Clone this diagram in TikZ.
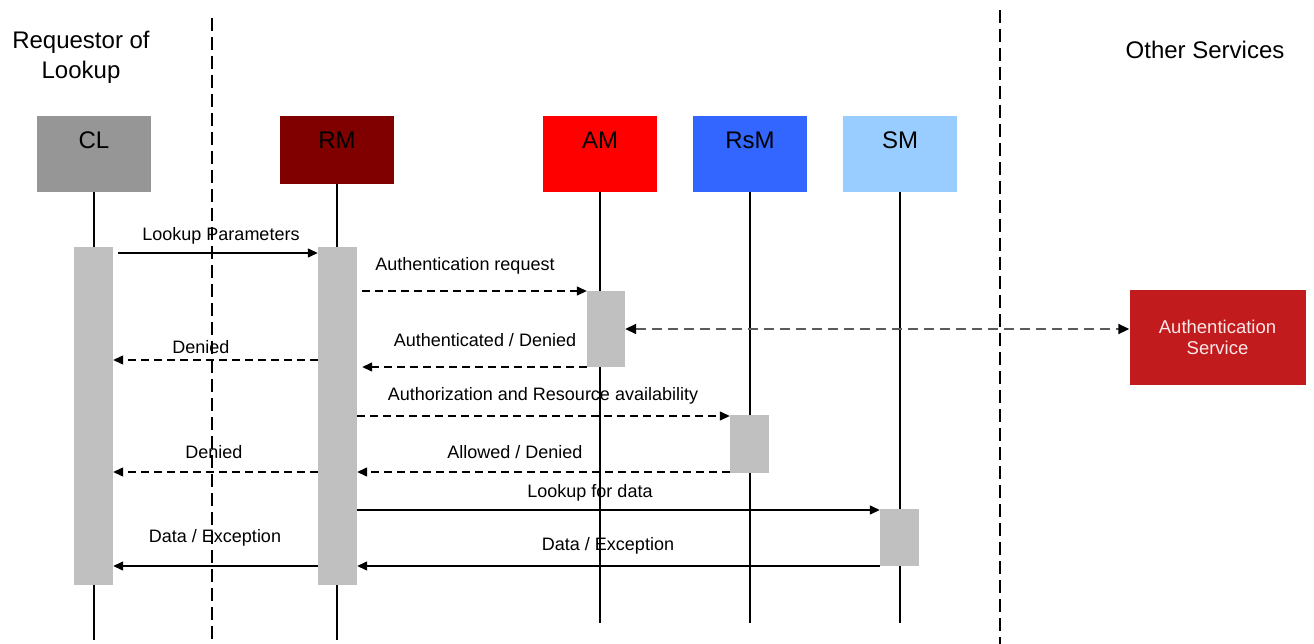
\documentclass[tikz,border=0pt]{standalone}
\usepackage{fontspec}
\setmainfont{Liberation Sans}
\usetikzlibrary{arrows.meta}
\definecolor{clgray}{HTML}{969696}
\definecolor{rmred}{HTML}{800000}
\definecolor{amred}{HTML}{FF0000}
\definecolor{rsmblue}{HTML}{3366FF}
\definecolor{smblue}{HTML}{99CCFF}
\definecolor{asred}{HTML}{C11B1E}
\definecolor{bargray}{HTML}{C0C0C0}
\definecolor{astext}{HTML}{FFE8E8}
\definecolor{dashgray}{HTML}{5A5A5A}
\tikzset{
  actor/.style={rectangle, inner sep=0pt, minimum width=114pt, minimum height=76pt},
  actorlbl/.style={font=\fontsize{24}{28}\selectfont, inner sep=0pt},
  bigtxt/.style={font=\fontsize{24}{30}\selectfont, inner sep=0pt, align=center},
  lbl/.style={font=\fontsize{18}{22}\selectfont, inner sep=0pt},
  bar/.style={rectangle, fill=bargray, inner sep=0pt, minimum width=39pt},
  life/.style={line width=1.3pt},
  divider/.style={line width=2pt, dash pattern=on 13pt off 6pt},
  msg/.style={line width=1.3pt, -{Triangle[length=10pt,width=9pt]}},
  dmsg/.style={msg, dash pattern=on 8pt off 5pt},
  bimsg/.style={line width=1.8pt, draw=dashgray, dash pattern=on 10pt off 6pt,
    {Triangle[length=11pt,width=10pt,color=black]}-{Triangle[length=11pt,width=10pt,color=black]}},
}
\begin{document}
\begin{tikzpicture}[x=1pt,y=-1pt]
\useasboundingbox[fill=white] (0,0) rectangle (1314,644);

% dividers
\coordinate (d1t) at (212,18); \coordinate (d1b) at (212,644);
\coordinate (d2t) at (1000,10); \coordinate (d2b) at (1000,644);
\draw[divider] (d1t) -- (d1b);
\draw[divider] (d2t) -- (d2b);

% headings
\node[bigtxt] (req) at (81,57) {Requestor of\\Lookup};
\node[bigtxt] (oth) at (1205,50) {Other Services};

% actors
\node[actor, fill=clgray] (cl) at (94,154) {};
\node[actor, fill=rmred, minimum height=68pt] (rm) at (337,150) {};
\node[actor, fill=amred] (am) at (600,154) {};
\node[actor, fill=rsmblue] (rsm) at (750,154) {};
\node[actor, fill=smblue] (sm) at (900,154) {};
\node[actorlbl] (clt) at (94,140) {CL};
\node[actorlbl] (rmt) at (337,140) {RM};
\node[actorlbl] (amt) at (600,140) {AM};
\node[actorlbl] (rsmt) at (750,140) {RsM};
\node[actorlbl] (smt) at (900,140) {SM};

% lifeline ends
\coordinate (cle) at (94,640);
\coordinate (rme) at (337,640);
\coordinate (ame) at (600,623);
\coordinate (rsme) at (750,623);
\coordinate (sme) at (900,623);
\draw[life] (cl.south) -- (cle);
\draw[life] (rm.south) -- (rme);
\draw[life] (am.south) -- (ame);
\draw[life] (rsm.south) -- (rsme);
\draw[life] (sm.south) -- (sme);

% activation bars
\node[bar, minimum height=338pt] (clb) at (93.5,416) {};
\node[bar, minimum height=338pt] (rmb) at (337.5,416) {};
\node[bar, minimum height=76pt, minimum width=38pt] (amb) at (606,329) {};
\node[bar, minimum height=58pt] (rsmb) at (749.5,444) {};
\node[bar, minimum height=57pt] (smb) at (899.5,537.5) {};

% authentication service
\node[rectangle, fill=asred, minimum width=176pt, minimum height=94pt, inner sep=0pt,
      text=astext, font=\fontsize{18.5}{21}\selectfont, align=center] (as) at (1217.5,337.5)
      {Authentication\\Service};

% message rows
\coordinate (m1) at (0,253);
\coordinate (m2) at (0,291);
\coordinate (m3) at (0,367);
\coordinate (m4) at (0,360);
\coordinate (m5) at (0,329);
\coordinate (m6) at (0,416);
\coordinate (m7) at (0,472);
\coordinate (m9) at (0,510);
\coordinate (m10) at (0,566);

\draw[msg, shorten <=5pt] (clb.east |- m1) -- (rmb.west |- m1);
\draw[dmsg, shorten <=5pt] (rmb.east |- m2) -- (amb.west |- m2);
\draw[dmsg, shorten >=5pt] (amb.west |- m3) -- (rmb.east |- m3);
\draw[dmsg] (rmb.west |- m4) -- (clb.east |- m4);
\draw[bimsg] (amb.east |- m5) -- (as.west |- m5);
\draw[dmsg] (rmb.east |- m6) -- (rsmb.west |- m6);
\draw[dmsg] (rsmb.west |- m7) -- (rmb.east |- m7);
\draw[dmsg] (rmb.west |- m7) -- (clb.east |- m7);
\draw[msg] (rmb.east |- m9) -- (smb.west |- m9);
\draw[msg] (smb.west |- m10) -- (rmb.east |- m10);
\draw[msg] (rmb.west |- m10) -- (clb.east |- m10);

% labels
\node[lbl] (l1) at (221,236) {Lookup Parameters};
\node[lbl] (l2) at (465,266) {Authentication request};
\node[lbl] (l3) at (485,340) {Authenticated / Denied};
\node[lbl] (l4) at (201,347) {Denied};
\node[lbl] (l6) at (543,396) {Authorization and Resource availability};
\node[lbl] (l7) at (515,452) {Allowed / Denied};
\node[lbl] (l8) at (214,452) {Denied};
\node[lbl] (l9) at (590,493) {Lookup for data};
\node[lbl] (l10) at (608,546) {Data / Exception};
\node[lbl] (l11) at (215,538) {Data / Exception};
\end{tikzpicture}
\end{document}
